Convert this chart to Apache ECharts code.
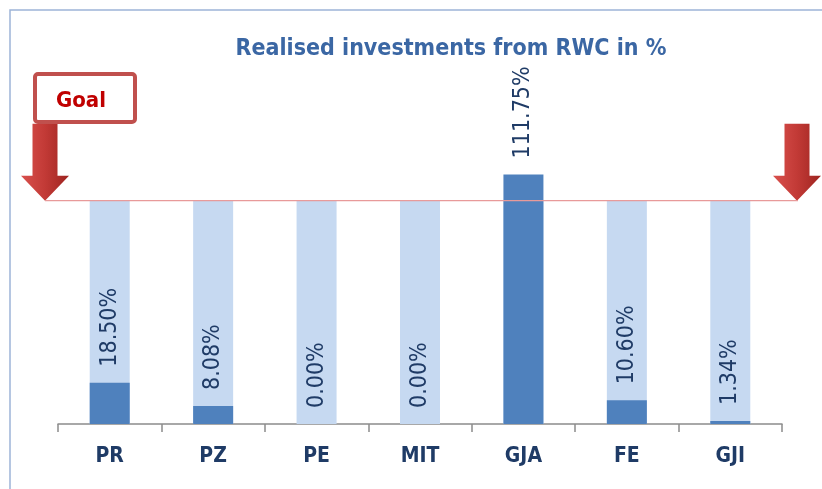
<!DOCTYPE html>
<html>
<head>
<meta charset="utf-8">
<script src="https://cdn.jsdelivr.net/npm/echarts@6/dist/echarts.min.js"></script>
<style>
html,body{margin:0;padding:0;background:#fff;}
#chart{width:822px;height:489px;}
</style>
</head>
<body>
<div id="chart"></div>
<script>
const titleText = 'Realised investments from RWC in %';
const categories = ['PR', 'PZ', 'PE', 'MIT', 'GJA', 'FE', 'GJI'];
const realised = [18.50, 8.08, 0.00, 0.00, 111.75, 10.60, 1.34];
const goalValue = 100;
const goalLine = [100, 100, 100, 100, 100, 100, 100];
const goalLabel = 'Goal';

const FONT = "'Liberation Sans Narrow', 'Arial Narrow', 'DejaVu Sans Condensed', sans-serif";

const chart = echarts.init(document.getElementById('chart'), null, {renderer: 'canvas'});

const option = {
  animation: false,
  backgroundColor: '#ffffff',
  title: {
    text: titleText,
    left: 446, top: 33, textAlign: 'center',
    textStyle: {fontFamily: FONT, fontWeight: 'bold', fontSize: 23, color: '#3B67A4'}
  },
  grid: {left: 58, right: 40, top: 156, bottom: 65},
  xAxis: {
    type: 'category',
    data: categories,
    axisLine: {lineStyle: {color: '#8C8C8C', width: 1.5}},
    axisTick: {show: true, length: 8, lineStyle: {color: '#8C8C8C', width: 1.5}},
    axisLabel: {margin: 22, fontFamily: FONT, fontWeight: 'bold', fontSize: 21, color: '#1F3B66'}
  },
  yAxis: {type: 'value', min: 0, max: 120, show: false, splitLine: {show: false}},
  series: [
    {
      type: 'bar', data: goalLine, barWidth: 40, barGap: '-100%',
      itemStyle: {color: '#C6D9F1'}, silent: true
    },
    {
      type: 'bar', data: realised, barWidth: 40, barGap: '-100%',
      itemStyle: {color: '#4F81BD'},
      label: {
        show: true, position: 'top', distance: 16, rotate: 90,
        align: 'left', verticalAlign: 'middle',
        fontFamily: FONT, fontSize: 23, color: '#1F3B66',
        formatter: p => p.value.toFixed(2) + '%'
      }
    }
  ]
};
chart.setOption(option);

const gy = chart.convertToPixel({yAxisIndex: 0}, goalValue);
const arrowGrad = new echarts.graphic.LinearGradient(0, 0, 1, 0, [
  {offset: 0, color: '#D9504D'}, {offset: 0.5, color: '#C23A36'}, {offset: 1, color: '#9E2420'}
]);
function arrow(cx) {
  return {
    type: 'polygon', z: 10,
    shape: {points: [
      [cx - 12.5, gy - 77], [cx + 12.5, gy - 77], [cx + 12.5, gy - 25],
      [cx + 24, gy - 25], [cx, gy], [cx - 24, gy - 25], [cx - 12.5, gy - 25]
    ]},
    style: {fill: arrowGrad}
  };
}
chart.setOption({
  graphic: [
    {type: 'rect', shape: {x: 10, y: 10, width: 900, height: 600},
     style: {fill: null, stroke: '#9DB4D8', lineWidth: 1.5}, z: 0},
    {type: 'line', shape: {x1: 45, y1: gy, x2: 798, y2: gy},
     style: {stroke: '#E89A9A', lineWidth: 1.2}, z: 20},
    arrow(45),
    arrow(797),
    {type: 'rect', shape: {x: 35, y: 74, width: 100, height: 48, r: 3},
     style: {fill: '#ffffff', stroke: '#C0504D', lineWidth: 4}, z: 11},
    {type: 'text', x: 81, y: 101, z: 12,
     style: {text: goalLabel, fontFamily: FONT, fontWeight: 'bold', fontSize: 22,
             fill: '#C00000', align: 'center', verticalAlign: 'middle'}}
  ]
});
</script>
</body>
</html>
